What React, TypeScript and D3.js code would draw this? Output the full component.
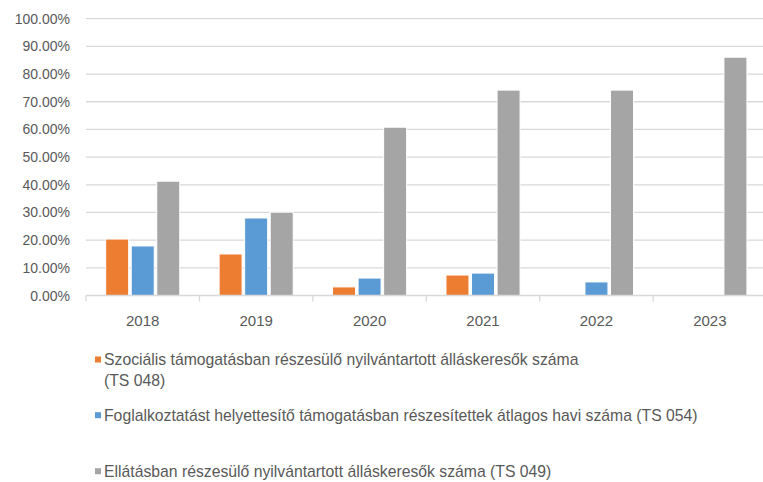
import React from "react";
import * as d3 from "d3";

const categories = ["2018", "2019", "2020", "2021", "2022", "2023"];
const seriesNames = [
  ["Szociális támogatásban részesülő nyilvántartott álláskeresők száma", "(TS 048)"],
  ["Foglalkoztatást helyettesítő támogatásban részesítettek átlagos havi száma (TS 054)"],
  ["Ellátásban részesülő nyilvántartott álláskeresők száma (TS 049)"],
];
const ts048 = [0.204, 0.15, 0.031, 0.074, null, null];
const ts054 = [0.179, 0.28, 0.063, 0.081, 0.049, null];
const ts049 = [0.413, 0.301, 0.608, 0.742, 0.742, 0.861];
const yTicks = [0, 0.1, 0.2, 0.3, 0.4, 0.5, 0.6, 0.7, 0.8, 0.9, 1.0];
const colors = ["#ED7D31", "#5B9BD5", "#A5A5A5"];

const W = 763;
const H = 482;
const left = 86;
const right = 766.6;
const top = 18.7;
const bottom = 295.5;
const font = "'Liberation Sans', Arial, sans-serif";
const textColor = "#595959";
const gridColor = "#D9D9D9";

export default function App() {
  if (typeof document !== "undefined") document.body.style.margin = "0";
  const series = [ts048, ts054, ts049];
  const x = d3.scaleBand<string>().domain(categories).range([left, right]).padding(0);
  const inner = d3
    .scaleBand<number>()
    .domain([0, 1, 2])
    .range([0, x.bandwidth()])
    .paddingInner(0.1)
    .paddingOuter(0.77);
  const y = d3.scaleLinear().domain([0, 1]).range([bottom, top]);
  const fmt = (v: number) => (v * 100).toFixed(2) + "%";

  const legendBaselines = [[365, 386], [420.7], [476.7]];

  return (
    <svg width={W} height={H} style={{ display: "block", background: "#fff" }}>
      {yTicks.map((t) => (
        <g key={t}>
          {t > 0 && (
            <line x1={left} x2={right} y1={y(t)} y2={y(t)} stroke={gridColor} strokeWidth={1.3} />
          )}
          <text
            x={70}
            y={y(t) + 5}
            textAnchor="end"
            fontFamily={font}
            fontSize={14}
            fill={textColor}
          >
            {fmt(t)}
          </text>
        </g>
      ))}
      {series.map((vals, si) =>
        vals.map((v, ci) =>
          v == null ? null : (
            <rect
              key={`${si}-${ci}`}
              x={(x(categories[ci]) as number) + (inner(si) as number)}
              y={y(v)}
              width={inner.bandwidth()}
              height={bottom - y(v)}
              fill={colors[si]}
              stroke="#fff"
              strokeWidth={1}
            />
          )
        )
      )}
      <line x1={left} x2={right} y1={bottom} y2={bottom} stroke={gridColor} strokeWidth={1.3} />
      {categories.map((c) => (
        <line
          key={"tk" + c}
          x1={x(c) as number}
          x2={x(c) as number}
          y1={bottom}
          y2={bottom + 6}
          stroke={gridColor}
          strokeWidth={1.3}
        />
      ))}
      {categories.map((c) => (
        <text
          key={"xl" + c}
          x={(x(c) as number) + x.bandwidth() / 2}
          y={325.7}
          textAnchor="middle"
          fontFamily={font}
          fontSize={15}
          fill={textColor}
        >
          {c}
        </text>
      ))}
      {seriesNames.map((lines, si) => (
        <g key={"lg" + si}>
          <rect
            x={95}
            y={legendBaselines[si][0] - 8.5}
            width={6}
            height={6}
            fill={colors[si]}
          />
          {lines.map((ln, li) => (
            <text
              key={li}
              x={104}
              y={legendBaselines[si][li]}
              fontFamily={font}
              fontSize={15.75}
              fill={textColor}
            >
              {ln}
            </text>
          ))}
        </g>
      ))}
    </svg>
  );
}
